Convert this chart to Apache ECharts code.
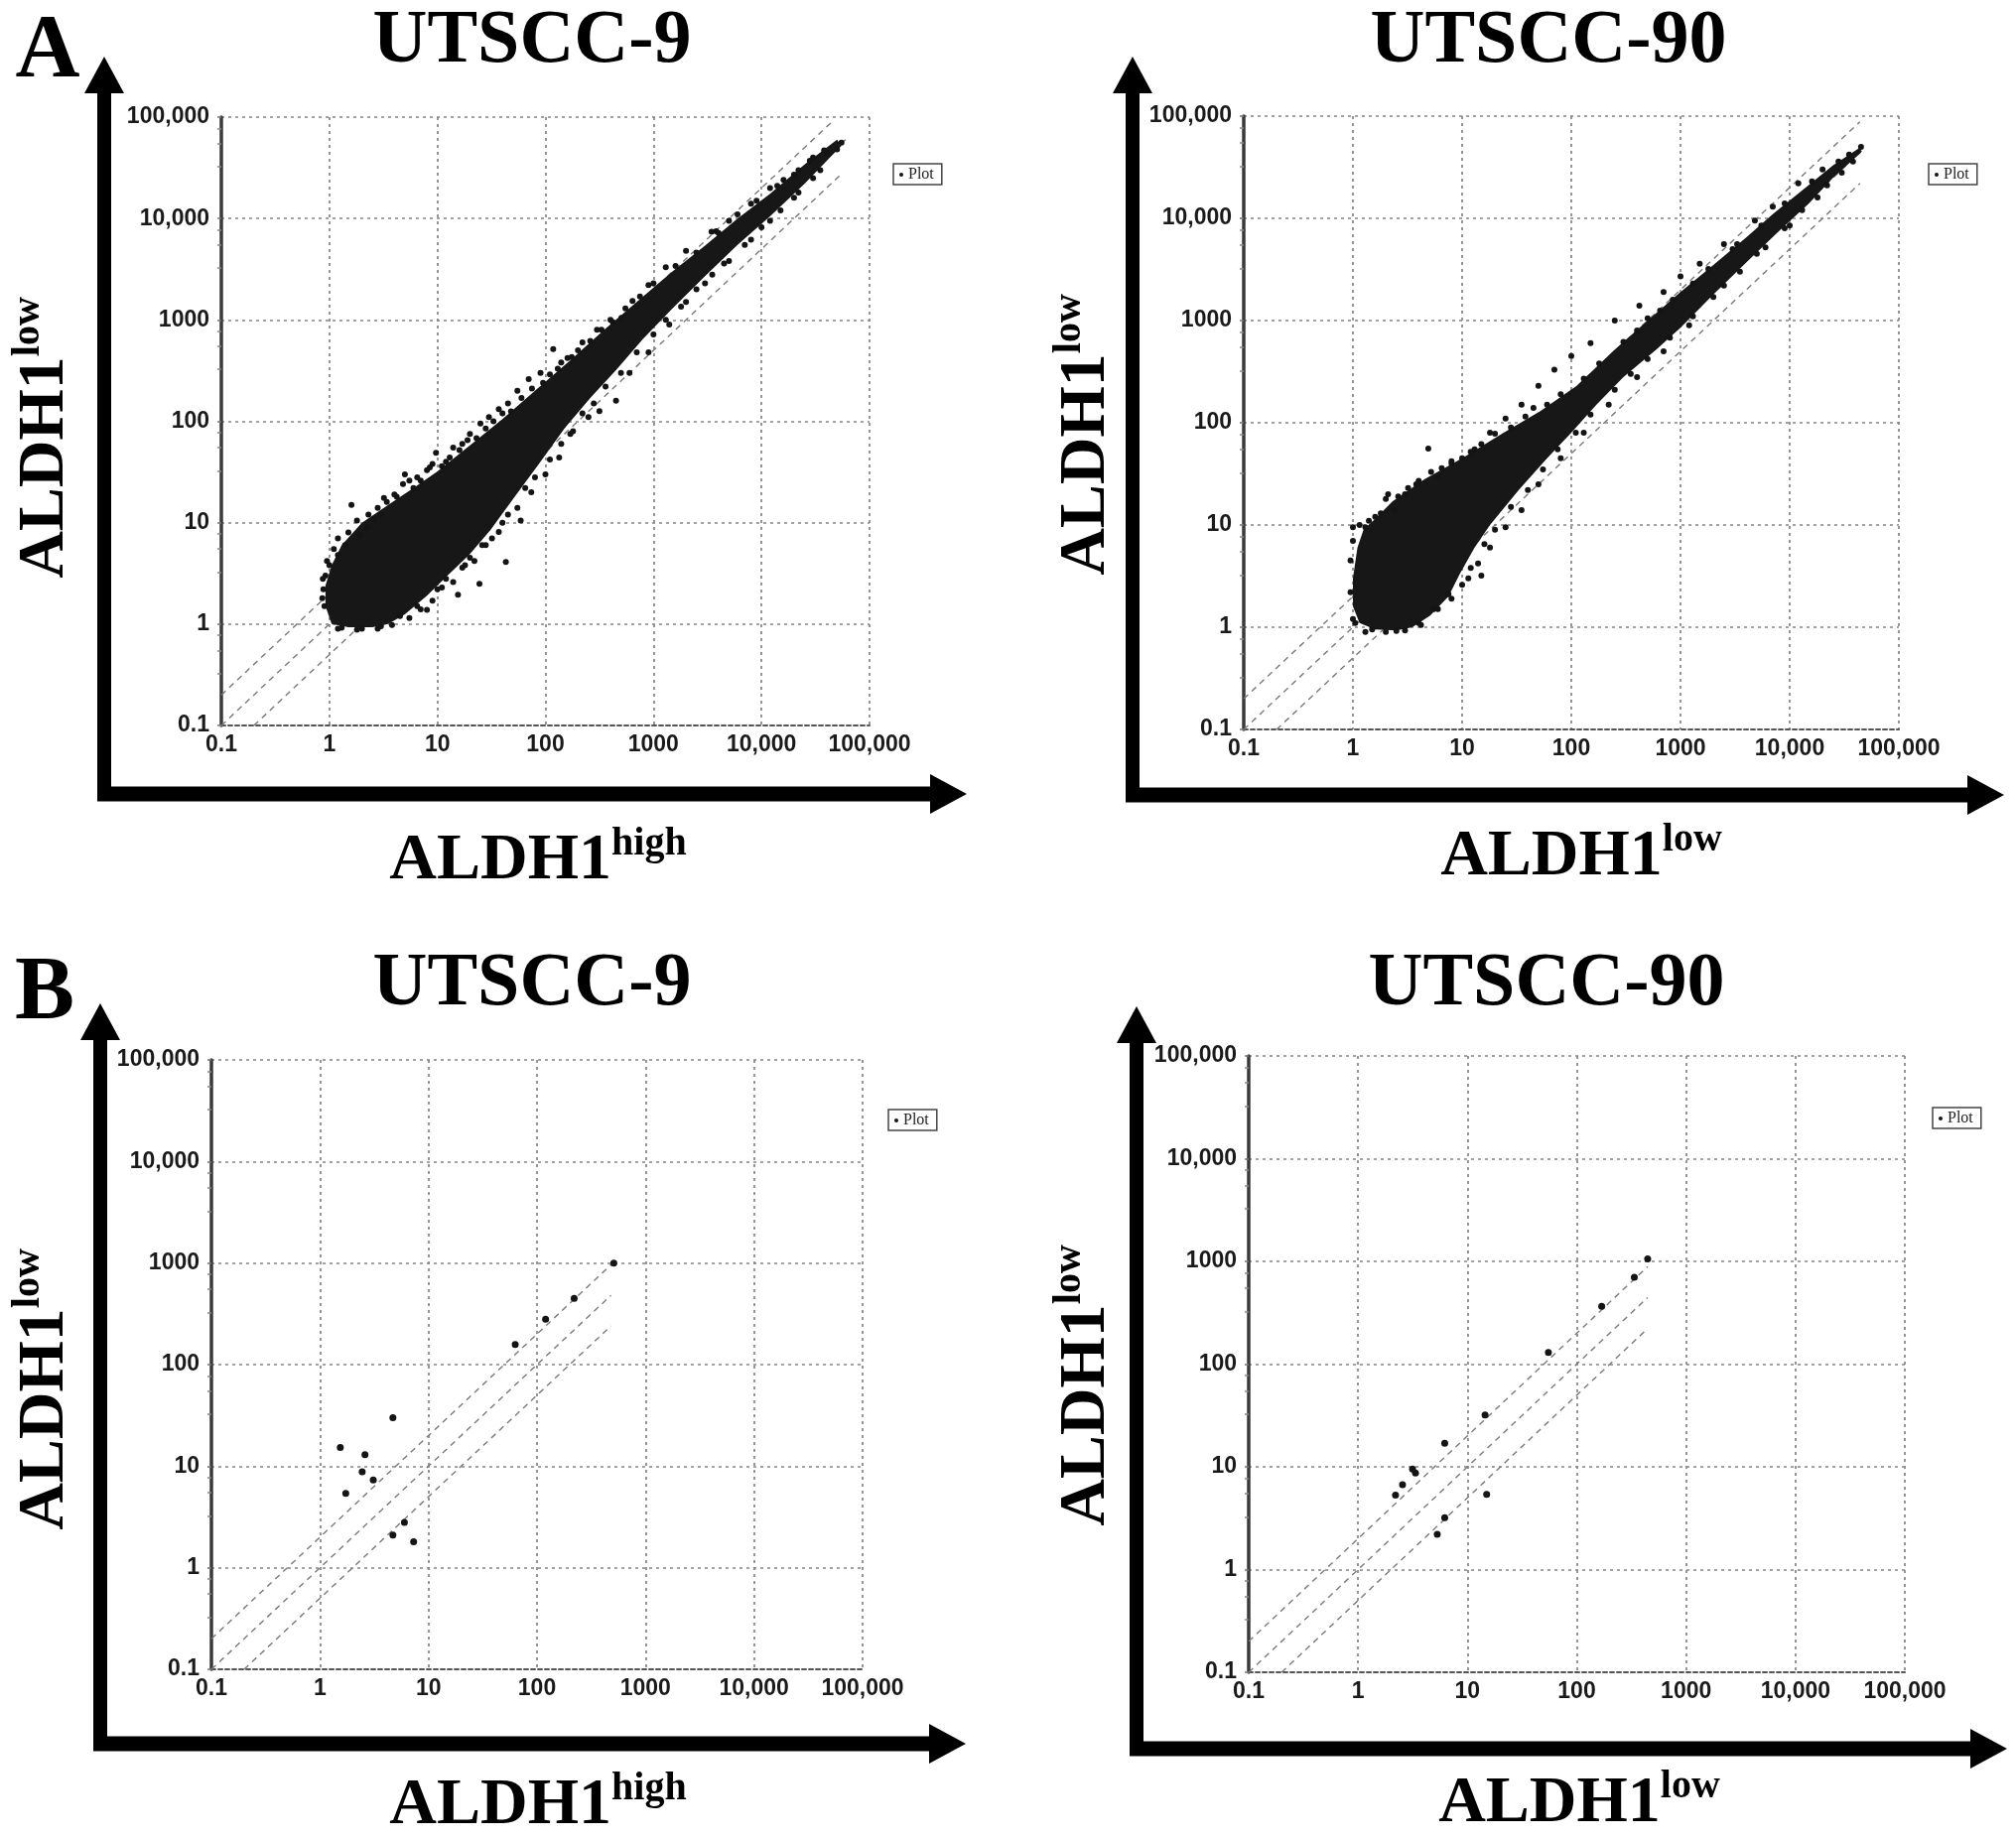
<!DOCTYPE html>
<html>
<head>
<meta charset="utf-8">
<script src="https://cdn.jsdelivr.net/npm/echarts@6/dist/echarts.min.js"></script>
<style>
html,body{margin:0;padding:0;background:#fff;}
#chart{width:2031px;height:1853px;}
</style>
</head>
<body>
<div id="chart"></div>
<script>
// ---------------- data ----------------
const panelTitles = ['UTSCC-9', 'UTSCC-90', 'UTSCC-9', 'UTSCC-90'];
const xAxisNames = ['high', 'low', 'high', 'low'];
const tickValues = [0.1, 1, 10, 100, 1000, 10000, 100000];
const tickLabels = ['0.1', '1', '10', '100', '1000', '10,000', '100,000'];

// A / UTSCC-9 : outline of the solid dense part of the cloud
const a9Core = [
  [0.92, 1.5], [1.05, 1.0], [1.5, 0.93], [2.5, 0.93], [3.5, 1.0], [5, 1.25], [8, 1.9], [12, 2.9],
  [20, 4.9], [31, 8.5], [50, 17], [90, 40], [150, 85], [260, 170], [450, 320], [800, 650],
  [1500, 1300], [3000, 2700], [6000, 5500], [12000, 10500], [25000, 22000], [45000, 42000], [55000, 52000],
  [50000, 60000], [25000, 34000], [12000, 17500], [6000, 10000], [3000, 5400], [1500, 3000],
  [700, 1500], [350, 800], [170, 400], [80, 200], [40, 105], [20, 58], [10, 32], [6, 22],
  [3.5, 15], [2, 10], [1.3, 6], [1.05, 3.8], [0.92, 2.4]
];
// A / UTSCC-9 : individual points around the dense part
const a9Points = [
  [0.9, 1.5], [0.88, 2.2], [0.92, 3.0], [1.0, 3.8], [1.2, 4.8], [1.4, 6.0], [1.6, 15], [1.9, 7.5],
  [2.2, 9], [2.6, 11], [3.0, 12], [3.4, 16], [4.2, 18], [5, 30], [6, 22], [7, 26], [8.5, 35],
  [9.7, 49], [12, 40], [14, 55], [17, 60], [20, 75], [25, 95], [30, 110], [37, 132], [45, 150],
  [55, 200], [70, 260], [90, 300], [118, 515], [140, 380], [175, 430], [220, 600], [300, 800],
  [400, 1000], [505, 1050], [640, 1540], [900, 2200], [1300, 3300], [2000, 4800], [3450, 7400],
  [3800, 7500], [5000, 9500], [8000, 14000], [12000, 20000], [16000, 24000], [22000, 30000],
  [30000, 40000], [40000, 45000], [55000, 56000], [50000, 48000],
  [1.3, 0.92], [2.0, 0.9], [3.0, 0.95], [4.5, 1.2], [6.5, 1.5], [8, 1.38], [10, 2.2], [15.5, 1.95],
  [12, 2.8], [17, 3.6], [24.5, 2.5], [20, 4.5], [28, 6], [43, 4.1], [37, 8.1], [45, 12], [59, 10.5],
  [74, 20], [100, 30], [134, 44], [180, 80], [250, 110], [316, 126], [450, 160], [600, 300],
  [900, 480], [1400, 900], [2000, 1500], [3000, 2300], [5000, 3800], [8000, 6200], [12000, 9500],
  [20000, 16000], [30000, 25000],
  [0.86, 1.8], [0.87, 2.8], [0.95, 4.2], [1.1, 5.5], [1.2, 7], [1.5, 8], [1.8, 10.5], [2.3, 12],
  [2.8, 14], [3.2, 17.5], [4, 19], [4.8, 24], [5.5, 26], [6.5, 28], [8, 33], [9, 38], [11, 36],
  [13, 44], [16, 52], [19, 65], [23, 68], [28, 85], [33, 100], [40, 120], [48, 125], [60, 170],
  [75, 210], [95, 240], [110, 290], [130, 330], [160, 420], [200, 500], [260, 620], [330, 800],
  [420, 950], [550, 1300], [750, 1700], [1000, 2300], [1600, 3400], [2500, 4600], [4000, 7200],
  [6000, 11000], [9000, 15000], [14000, 21000], [20000, 27000], [28000, 37000], [38000, 47000],
  [1.2, 0.9], [1.8, 0.88], [2.8, 0.9], [3.8, 0.98], [5.5, 1.15], [7, 1.4], [9, 1.7], [11, 2.3],
  [14, 2.6], [18, 3.8], [22, 4.2], [26, 6], [32, 7], [40, 10], [55, 14], [65, 22], [80, 28],
  [110, 42], [140, 60], [170, 75], [220, 120], [280, 150], [360, 220], [500, 300], [700, 480],
  [1000, 720], [1300, 1000], [1800, 1350], [2500, 2000], [3500, 2800], [4500, 3600], [7000, 5500],
  [10000, 8200], [15000, 12000], [22000, 18000], [35000, 30000]
];
const a9Upper = [[0.1, 0.2], [46000, 92000]];
const a9Middle = [[0.1, 0.1], [60000, 60000]];
const a9Lower = [[0.2, 0.1], [53000, 26500]];

// A / UTSCC-90
const a90Core = [
  [1.0, 1.6], [1.15, 1.1], [1.6, 0.95], [2.5, 0.93], [3.5, 1.0], [5.1, 1.3], [7.5, 2.0], [9.5, 3.3],
  [13, 6], [18, 10], [33, 22], [60, 45], [100, 80], [170, 150], [300, 280], [600, 520],
  [1000, 850], [2000, 1800], [4000, 3700], [8000, 7500], [15000, 14000], [25000, 25000], [45000, 44000],
  [45000, 50000], [25000, 33000], [14000, 20000], [7000, 11000], [4000, 6500], [2000, 3500],
  [1000, 1900], [500, 1000], [250, 520], [112, 230], [52, 130], [24, 80], [10, 45], [4.5, 28],
  [2.3, 17], [1.6, 11.5], [1.25, 9], [1.1, 6], [1.0, 3]
];
const a90Points = [
  [1.0, 9.5], [1.3, 9.5], [1.6, 12], [2.1, 20], [2.4, 14], [3.0, 20], [4.9, 56], [4, 27], [6, 30],
  [8, 40], [10, 45], [13, 55], [18, 80], [25, 110], [35, 150], [50, 230], [70, 330], [100, 450],
  [150, 600], [250, 1000], [420, 1400], [500, 1050], [700, 1900], [1000, 2700], [1500, 3600],
  [2500, 5600], [3300, 5600], [4800, 9500], [7000, 13000], [12000, 22000], [20000, 30000],
  [35000, 42000], [45000, 50000],
  [1.0, 1.2], [1.5, 0.95], [2.5, 0.92], [4, 1.1], [5.5, 1.5], [7.5, 2.1], [11.4, 3.0], [15, 3.2],
  [14, 4.2], [18, 6], [25, 9.5], [35, 14], [50, 25], [80, 45], [130, 80], [220, 150], [400, 280],
  [700, 500], [1200, 900], [2000, 1700], [3500, 3000], [6000, 5200], [10000, 8500], [18000, 16000],
  [30000, 28000],
  [0.95, 2.2], [0.95, 4.5], [1.0, 7], [1.15, 10], [1.4, 11], [1.8, 13], [2.0, 18], [2.6, 19],
  [3.2, 23], [3.8, 25], [5.2, 33], [6.5, 36], [8, 42], [12, 52], [15, 62], [20, 78], [28, 90],
  [38, 115], [45, 140], [60, 150], [80, 190], [130, 270], [180, 380], [300, 620], [400, 800],
  [650, 1250], [850, 1600], [1300, 2300], [1800, 3200], [3000, 5000], [5500, 8500], [9000, 14000],
  [16000, 23000], [28000, 36000],
  [1.05, 1.1], [1.3, 0.9], [2.0, 0.9], [3.0, 0.93], [4.2, 1.05], [6, 1.5], [8, 1.9], [10, 2.6],
  [12, 3.8], [16, 6.5], [20, 9], [28, 15], [40, 22], [55, 35], [75, 55], [110, 80], [150, 120],
  [250, 210], [350, 300], [500, 420], [800, 680], [1300, 1100], [2500, 2200], [5000, 4500],
  [9000, 8000], [13000, 12000], [22000, 21000], [38000, 36000]
];
const a90Upper = [[0.1, 0.2], [44000, 88000]];
const a90Middle = [[0.1, 0.1], [48000, 48000]];
const a90Lower = [[0.2, 0.1], [44000, 22000]];

// B / UTSCC-9
const b9Points = [
  [510, 1000], [220, 450], [120, 280], [63, 158], [4.7, 30], [1.54, 15.3], [2.6, 13], [2.45, 8.8],
  [3.1, 7.3], [1.73, 5.4], [6.0, 2.8], [4.7, 2.1], [7.3, 1.8]
];
const b9Upper = [[0.1, 0.2], [510, 1020]];
const b9Middle = [[0.1, 0.1], [480, 480]];
const b9Lower = [[0.2, 0.1], [480, 240]];

// B / UTSCC-90
const b90Points = [
  [445, 1060], [336, 700], [169, 366], [55, 130], [14.5, 32], [6.2, 17], [3.15, 9.5], [3.35, 8.7],
  [2.55, 6.7], [2.2, 5.3], [15, 5.4], [6.2, 3.2], [5.3, 2.2]
];
const b90Upper = [[0.1, 0.2], [445, 890]];
const b90Middle = [[0.1, 0.1], [445, 445]];
const b90Lower = [[0.2, 0.1], [445, 222]];

// ---------------- layout ----------------
const grids = [
  {left: 223, top: 118, width: 653, height: 613},
  {left: 1253, top: 117, width: 660, height: 618},
  {left: 213, top: 1068, width: 656, height: 614},
  {left: 1258, top: 1064, width: 661, height: 621}
];
const legendPos = [[900, 165], [1943, 165], [895, 1118], [1947, 1116]];

const panels = [
  {core: a9Core, pts: a9Points, lines: [a9Upper, a9Middle, a9Lower], size: 6},
  {core: a90Core, pts: a90Points, lines: [a90Upper, a90Middle, a90Lower], size: 6},
  {core: null, pts: b9Points, lines: [b9Upper, b9Middle, b9Lower], size: 7},
  {core: null, pts: b90Points, lines: [b90Upper, b90Middle, b90Lower], size: 7}
];

function fmt(v) {
  const k = Math.round(Math.log10(v)) + 1;
  return tickLabels[k] !== undefined ? tickLabels[k] : '';
}

const labelFont = {fontFamily: '"Liberation Sans", Arial, sans-serif', fontWeight: 'bold', fontSize: 23, color: '#1a1a1a'};
const gridLine = {show: true, lineStyle: {color: '#858585', type: [3, 4], width: 1.7}};

const xAxes = [], yAxes = [], series = [], legends = [];
panels.forEach((p, i) => {
  xAxes.push({
    type: 'log', logBase: 10, gridIndex: i, min: tickValues[0], max: tickValues[tickValues.length - 1], splitNumber: 6,
    axisLine: {show: true, lineStyle: {color: '#555', width: 2, type: [4, 3]}},
    axisTick: {show: false},
    axisLabel: Object.assign({margin: 8, formatter: fmt}, labelFont),
    splitLine: gridLine
  });
  yAxes.push({
    type: 'log', logBase: 10, gridIndex: i, min: tickValues[0], max: tickValues[tickValues.length - 1], splitNumber: 6,
    axisLine: {show: true, lineStyle: {color: '#3a3a3a', width: 3.5}},
    axisTick: {show: true, length: 4, lineStyle: {color: '#777', width: 1.5}},
    minorTick: {show: true, splitNumber: 4, length: 4, lineStyle: {color: '#888', width: 1.5}},
    axisLabel: Object.assign({margin: 12, formatter: fmt}, labelFont),
    splitLine: gridLine
  });
  if (p.core) {
    const core = p.core;
    series.push({
      type: 'custom', name: 'core', xAxisIndex: i, yAxisIndex: i, silent: true, z: 3,
      data: core,
      renderItem: function (params, api) {
        if (params.dataIndex !== 0) return null;
        return {type: 'polygon', shape: {points: core.map(c => api.coord(c))}, style: {fill: '#171717'}};
      }
    });
  }
  p.lines.forEach(l => {
    series.push({
      type: 'line', name: 'ref', xAxisIndex: i, yAxisIndex: i, data: l, symbol: 'none', silent: true, z: 2,
      lineStyle: {color: '#7a7a7a', width: 1.4, type: [6, 5]}
    });
  });
  series.push({
    type: 'scatter', name: 'Plot', xAxisIndex: i, yAxisIndex: i, data: p.pts, symbol: 'circle',
    symbolSize: p.size, itemStyle: {color: '#141414', opacity: 1}, z: 4
  });
  legends.push({
    left: legendPos[i][0], top: legendPos[i][1], data: [{name: 'Plot', icon: 'circle'}],
    selectedMode: false, itemWidth: 4, itemHeight: 4, itemGap: 4,
    borderColor: '#444', borderWidth: 1.5, padding: [3, 8, 2, 6], backgroundColor: '#fff',
    textStyle: {fontFamily: '"Liberation Serif", serif', fontSize: 16, color: '#222'}
  });
});

// ---------------- decorations (arrows, titles, labels) ----------------
function arrows(vx, vTip, hy, hTip) {
  const sw = 14, hw = 20, hl = 37;
  const c = {fill: '#000'};
  return [
    {type: 'rect', shape: {x: vx - sw / 2, y: vTip + hl - 1, width: sw, height: hy + sw / 2 - (vTip + hl - 1)}, style: c},
    {type: 'polygon', shape: {points: [[vx, vTip], [vx - hw, vTip + hl], [vx + hw, vTip + hl]]}, style: c},
    {type: 'rect', shape: {x: vx - sw / 2, y: hy - sw / 2 - 0.5, width: hTip - hl + 1 - (vx - sw / 2), height: sw + 1}, style: c},
    {type: 'polygon', shape: {points: [[hTip, hy], [hTip - hl, hy - hw], [hTip - hl, hy + hw]]}, style: c}
  ];
}
const serif = '"Liberation Serif", "Times New Roman", serif';
function richLabel(sup) {
  return {
    text: '{m|ALDH1}{s|' + sup + '}',
    align: 'center', verticalAlign: 'middle',
    rich: {
      m: {fontFamily: serif, fontWeight: 'bold', fontSize: 66, lineHeight: 70, fill: '#000', verticalAlign: 'bottom'},
      s: {fontFamily: serif, fontWeight: 'bold', fontSize: 40, lineHeight: 40, fill: '#000', verticalAlign: 'top'}
    }
  };
}
const titleStyle = (t) => ({text: t, font: 'bold 76px ' + serif, fill: '#000', align: 'center', verticalAlign: 'middle'});

const graphic = [].concat(
  arrows(105, 57, 800, 974),
  arrows(1141, 57, 801, 2019),
  arrows(101, 1011, 1757, 973),
  arrows(1145, 1014, 1762, 2022),
  [
    {type: 'text', x: 48, y: 54, style: {text: 'A', font: 'bold 90px ' + serif, fill: '#000', align: 'center', verticalAlign: 'middle'}},
    {type: 'text', x: 45, y: 1003, style: {text: 'B', font: 'bold 90px ' + serif, fill: '#000', align: 'center', verticalAlign: 'middle'}},
    {type: 'text', x: 536, y: 42, style: titleStyle(panelTitles[0])},
    {type: 'text', x: 1560, y: 42, style: titleStyle(panelTitles[1])},
    {type: 'text', x: 536, y: 992, style: titleStyle(panelTitles[2])},
    {type: 'text', x: 1558, y: 992, style: titleStyle(panelTitles[3])},
    {type: 'text', x: 542, y: 866, style: richLabel(xAxisNames[0])},
    {type: 'text', x: 1593, y: 862, style: richLabel(xAxisNames[1])},
    {type: 'text', x: 542, y: 1818, style: richLabel(xAxisNames[2])},
    {type: 'text', x: 1591, y: 1816, style: richLabel(xAxisNames[3])},
    {type: 'text', x: 44, y: 441, rotation: Math.PI / 2, style: richLabel('low')},
    {type: 'text', x: 1093, y: 438, rotation: Math.PI / 2, style: richLabel('low')},
    {type: 'text', x: 44, y: 1400, rotation: Math.PI / 2, style: richLabel('low')},
    {type: 'text', x: 1093, y: 1396, rotation: Math.PI / 2, style: richLabel('low')}
  ]
);

const chart = echarts.init(document.getElementById('chart'), null, {renderer: 'canvas'});
chart.setOption({
  animation: false,
  backgroundColor: '#fff',
  grid: grids,
  xAxis: xAxes,
  yAxis: yAxes,
  legend: legends,
  series: series,
  graphic: graphic
});
</script>
</body>
</html>
